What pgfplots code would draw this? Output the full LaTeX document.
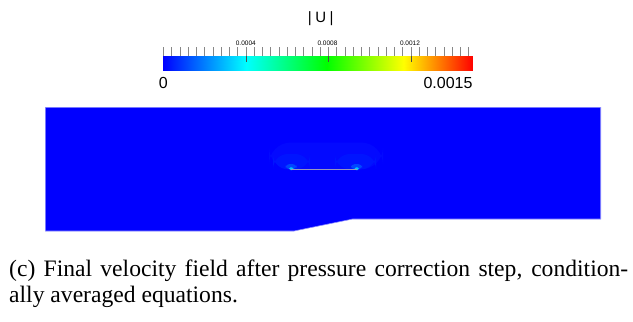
\documentclass[border=0pt]{standalone}
\usepackage{pgfplots}
\pgfplotsset{compat=1.18}
\usepackage{fontspec}
\setmainfont{Liberation Serif}
\newfontfamily\pvfont{Liberation Sans}
\definecolor{pvblue}{RGB}{0,0,255}
\definecolor{pvedge}{RGB}{140,140,255}
\definecolor{haloA}{RGB}{3,9,255}
\definecolor{haloB}{RGB}{0,20,255}
\definecolor{haloC}{RGB}{0,70,255}
\definecolor{haloD}{RGB}{0,200,255}
\definecolor{plate}{RGB}{150,150,190}
\definecolor{tickgray}{RGB}{135,135,135}
\definecolor{tickdark}{RGB}{75,75,75}
\pgfplotsset{colormap={pv}{rgb255(0pt)=(0,0,255) rgb255(26.9pt)=(0,255,255) rgb255(52.8pt)=(0,255,0) rgb255(77.6pt)=(255,255,0) rgb255(100pt)=(255,0,0)}}
\begin{document}
\begin{tikzpicture}
\useasboundingbox (0,0) rectangle (633bp,322bp);
% ---------- main canvas (pixel coordinates, y downward) ----------
\begin{axis}[at={(0,0)}, anchor=south west, scale only axis,
  width=633bp, height=322bp, xmin=0, xmax=633, ymin=0, ymax=322,
  y dir=reverse, hide axis, clip=false]
% fluid domain
\addplot[fill=pvblue, draw=pvedge, line width=0.6bp] coordinates
  {(45.3,107.3) (600.7,107.3) (600.7,219) (352.7,219) (294,231) (45.3,231)} -- cycle;
% faint velocity halos above the plate
\addplot[fill=haloA, draw=none, rounded corners=22bp] coordinates
  {(269,169.3) (269,142.5) (383,142.5) (383,169.3)} -- cycle;
\addplot[fill=haloB, draw=none, rounded corners=15bp] coordinates
  {(273,169.3) (273,154) (310,154) (310,169.3)} -- cycle;
\addplot[fill=haloB, draw=none, rounded corners=15bp] coordinates
  {(335,169.3) (335,154) (376,154) (376,169.3)} -- cycle;
\addplot[fill=haloC, draw=none, rounded corners=4bp] coordinates
  {(285.5,169.3) (285.5,164) (296.5,164) (296.5,169.3)} -- cycle;
\addplot[fill=haloC, draw=none, rounded corners=4bp] coordinates
  {(351,169.3) (351,164) (362,164) (362,169.3)} -- cycle;
\addplot[fill=haloD, draw=none, rounded corners=1.5bp] coordinates
  {(289,170) (289,167.3) (293.5,167.3) (293.5,170)} -- cycle;
\addplot[fill=haloD, draw=none, rounded corners=1.5bp] coordinates
  {(354.5,170) (354.5,167.3) (359,167.3) (359,170)} -- cycle;
% plate
\addplot[draw=plate, line width=1bp] coordinates {(291,169.3) (357,169.3)};
% titles / caption
\node[anchor=base, inner sep=0, font=\pvfont\fontsize{15bp}{17bp}\selectfont]
  at (axis cs:320.8,23) {|\hspace{3.5bp}U\hspace{3.5bp}|};
\node[anchor=base west, inner sep=0, font=\fontsize{23.6bp}{26bp}\selectfont]
  at (axis cs:9,276.5) {\makebox[619bp][s]{(c) Final velocity field after pressure correction step, condition-}};
\node[anchor=base west, inner sep=0, font=\fontsize{23.6bp}{26bp}\selectfont]
  at (axis cs:9,302.5) {ally averaged equations.};
\end{axis}
% ---------- colour bar ----------
\begin{axis}[at={(163.3bp,251.3bp)}, anchor=south west, scale only axis,
  width=309.4bp, height=15bp, xmin=0, xmax=37.5, ymin=0, ymax=1,
  axis line style={draw=none}, ytick=\empty,
  xtick={10,20,30}, xticklabels={}, minor xtick={0,1,...,37},
  xtick pos=right, tick align=outside,
  major tick length=8.4bp, minor tick length=8.4bp,
  major tick style={draw=tickgray, line width=0.5bp},
  minor tick style={draw=tickgray, line width=0.5bp},
  point meta min=0, point meta max=37.5, colormap name=pv, clip=false]
\addplot[surf, shader=interp, mesh/rows=2, point meta=explicit] coordinates
  {(0,0) [0] (37.5,0) [37.5]
   (0,1) [0] (37.5,1) [37.5]};
\node[anchor=base, inner sep=0, font=\pvfont\fontsize{6.5bp}{7bp}\selectfont] at (axis cs:10,1) [yshift=10bp] {0.0004};
\node[anchor=base, inner sep=0, font=\pvfont\fontsize{6.5bp}{7bp}\selectfont] at (axis cs:19.9,1) [yshift=10bp] {0.0008};
\node[anchor=base, inner sep=0, font=\pvfont\fontsize{6.5bp}{7bp}\selectfont] at (axis cs:29.9,1) [yshift=10bp] {0.0012};
\node[anchor=base, inner sep=0, font=\pvfont\fontsize{16bp}{18bp}\selectfont] at (axis cs:0,0) [yshift=-17.6bp] {0};
\node[anchor=base east, inner sep=0, font=\pvfont\fontsize{16bp}{18bp}\selectfont] at (axis cs:37.5,0) [yshift=-17.6bp] {0.0015};
\end{axis}
\begin{axis}[at={(163.3bp,251.3bp)}, anchor=south west, scale only axis,
  width=309.4bp, height=15bp, xmin=0, xmax=37.5, ymin=0, ymax=1,
  axis line style={draw=none}, ytick=\empty,
  xtick={10,20,30}, xticklabels={}, xtick pos=right, tick align=inside,
  major tick length=6.5bp, major tick style={draw=tickdark, line width=0.5bp}]
\end{axis}
\end{tikzpicture}
\end{document}
